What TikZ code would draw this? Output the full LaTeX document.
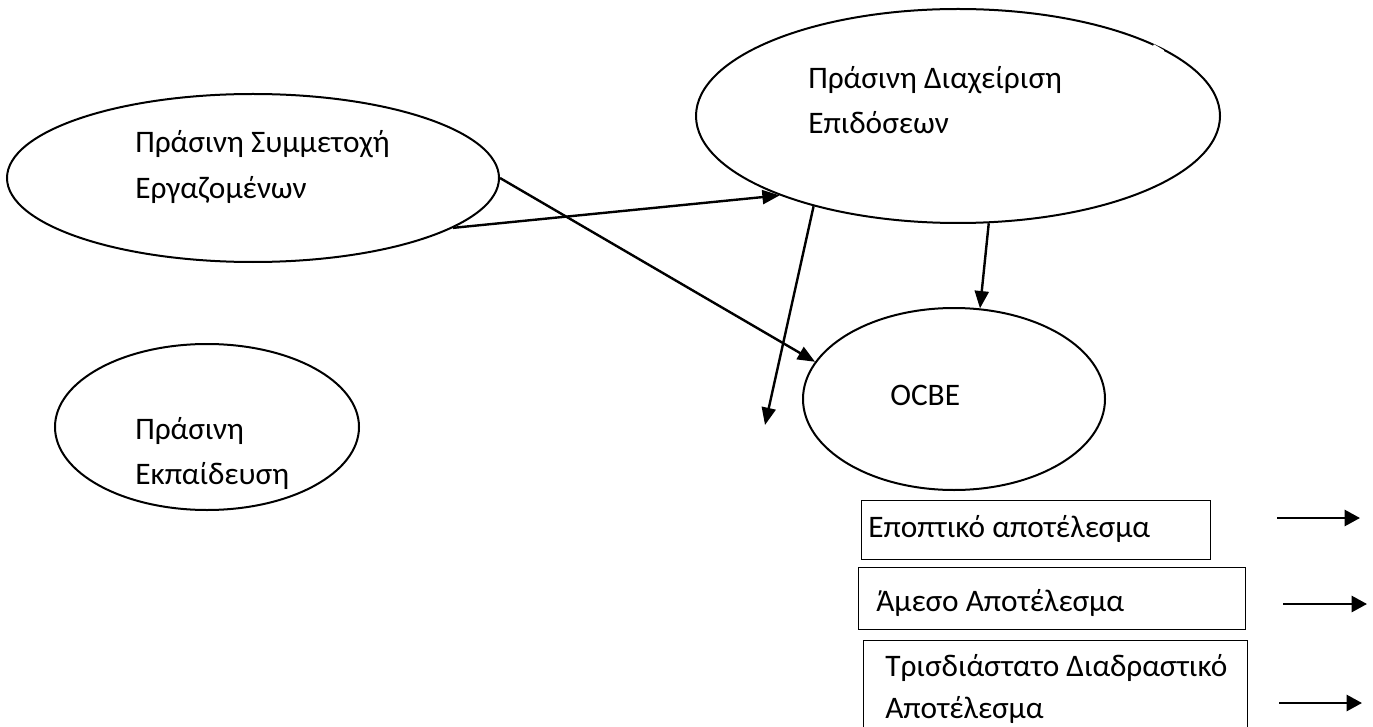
\documentclass[tikz,border=0pt]{standalone}
\usepackage{fontspec}
\setmainfont{Carlito}
\usetikzlibrary{shapes.geometric,arrows.meta}

\begin{document}
\begin{tikzpicture}[x=0.75pt,y=-0.75pt,
  bubble/.style={draw,line width=1.5pt,ellipse,inner sep=0pt},
  keybox/.style={draw,line width=1pt,rectangle,inner sep=0pt,anchor=north west},
  lbl/.style={anchor=base west,inner sep=0pt,font=\fontsize{23.5}{28}\selectfont},
  link/.style={line width=1.8pt,-{Triangle[length=13pt,width=10.5pt]}},
  keyarrow/.style={line width=1.9pt,-{Triangle[length=11.5pt,width=12pt]}},
  gap/.style={white,line width=3pt}]
\clip (0,0) rectangle (1373,727);
\useasboundingbox (0,0) rectangle (1373,727);

% constructs
\node[bubble,minimum width=369pt,minimum height=126pt] (part) at (253,178) {};
\node[bubble,minimum width=393pt,minimum height=160.5pt] (perf) at (958,116) {};
\node[bubble,minimum width=226.5pt,minimum height=136.5pt] (ocbe) at (954,399) {};
\node[bubble,minimum width=228pt,minimum height=124.5pt] (train) at (207,427) {};

% small breaks in the outlines
\draw[gap] (434,231) -- (443,226);
\draw[gap] (1153,46) -- (1163,52);

% labels of the constructs
\node[lbl] (partA) at (135,153) {Πράσινη Συμμετοχή};
\node[lbl] (partB) at (135,199) {Εργαζομένων};
\node[lbl] (perfA) at (808,89) {Πράσινη Διαχείριση};
\node[lbl] (perfB) at (808,134) {Επιδόσεων};
\node[lbl] (ocbeT) at (890,405) {OCBE};
\node[lbl] (trainA) at (135,439) {Πράσινη};
\node[lbl] (trainB) at (135,484) {Εκπαίδευση};

% paths
\coordinate (loose) at (765,425);
\draw[link] (part.-14.9) -- (perf.204.5);
\draw[link] (part.0) -- (ocbe.165.5);
\draw[link] (perf.212.1) -- (loose);
\draw[link] (perf.-74.4) -- (ocbe.74.6);

% key
\node[keybox,minimum width=261.75pt,minimum height=44.25pt] (k1) at (861,500) {};
\node[keybox,minimum width=290.25pt,minimum height=46.5pt] (k2) at (858,567) {};
\node[keybox,minimum width=288pt,minimum height=90pt] (k3) at (863,640) {};
\node[lbl] (k1t) at (868,537) {Εποπτικό αποτέλεσμα};
\node[lbl] (k2t) at (876,611) {Άμεσο Αποτέλεσμα};
\node[lbl] (k3a) at (885,676) {Τρισδιάστατο Διαδραστικό};
\node[lbl] (k3b) at (885,718) {Αποτέλεσμα};

\coordinate (a1s) at (1277,518); \coordinate (a1e) at (1360,518);
\coordinate (a2s) at (1283,604); \coordinate (a2e) at (1367,604);
\coordinate (a3s) at (1279,703); \coordinate (a3e) at (1362,703);
\draw[keyarrow] (a1s) -- (a1e);
\draw[keyarrow] (a2s) -- (a2e);
\draw[keyarrow] (a3s) -- (a3e);
\end{tikzpicture}
\end{document}
